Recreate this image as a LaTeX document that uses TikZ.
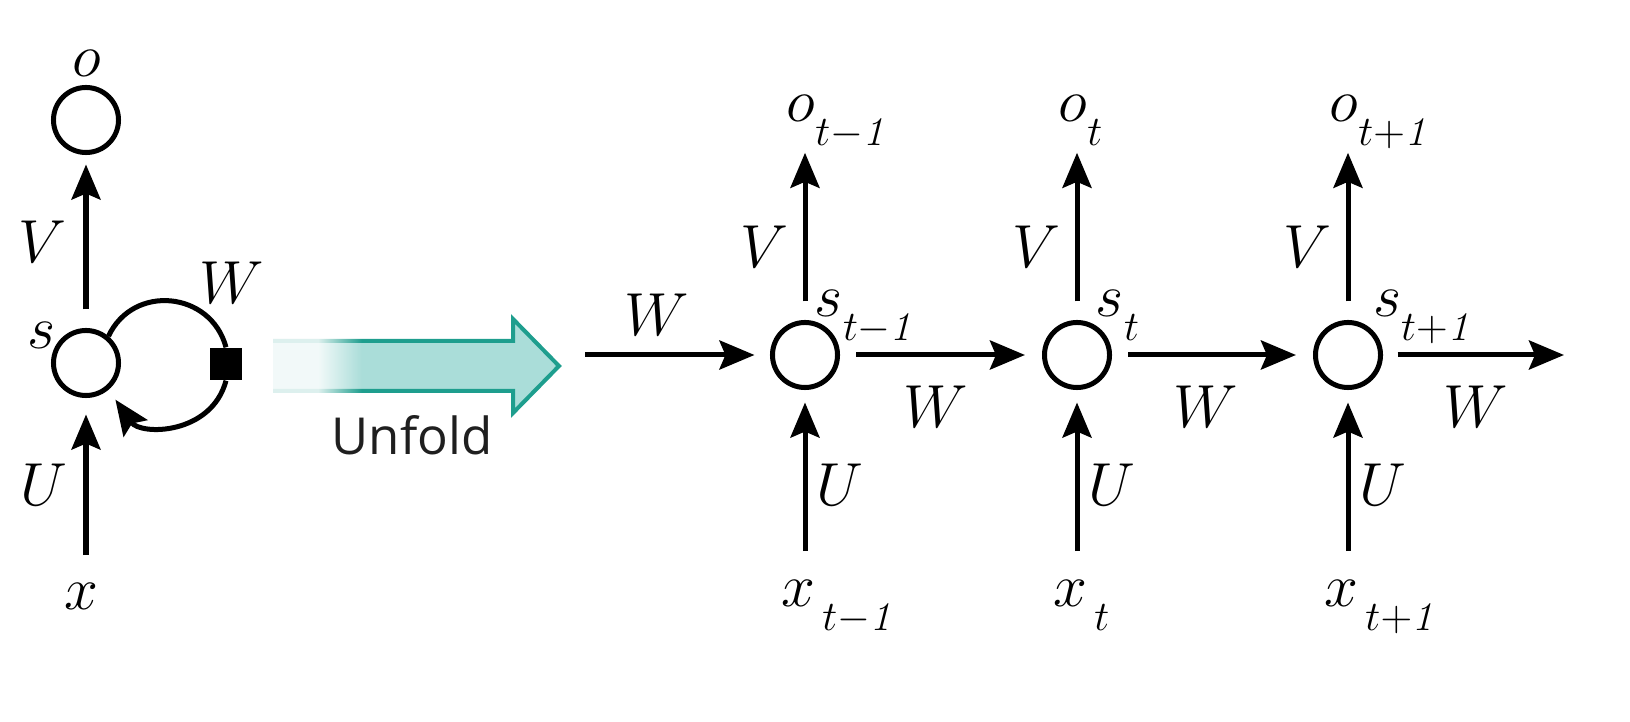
\documentclass[tikz,border=0pt]{standalone}
\usepackage{fontspec}
\newfontfamily\unfoldfont{Open Sans}
\usepackage{tikz}
\usetikzlibrary{arrows.meta,positioning,calc,fadings}
\definecolor{tealline}{HTML}{1E9E8E}
\definecolor{tealfill}{HTML}{AADDD9}
\tikzfading[name=fadeout right, left color=transparent!0, right color=transparent!100]
% subscript set low and to the right, without changing the node's box
\newcommand{\sublab}[1]{\rlap{\raisebox{-7pt}[0pt][0pt]{$\scriptstyle #1$}}}

\begin{document}
\begin{tikzpicture}[x=0.01cm, y=0.01cm,
  font=\fontsize{16.5}{19}\selectfont,
  unit/.style={circle, draw, line width=0.05cm, minimum size=0.65cm, inner sep=0pt},
  lab/.style={inner sep=0pt},
  arr/.style={-{Stealth[length=0.35cm,width=0.29cm,inset=0.06cm]}, line width=0.05cm},
]
\useasboundingbox (0,0) rectangle (1630,-722);

% folded network
\node[unit] (o0) at (86,-120) {};
\node[unit] (s0) at (86,-363) {};
\node[fill, minimum size=0.32cm, inner sep=0pt] (sq) at (226,-364) {};
\node[lab] (olab0) at (87,-63) {$o$};
\node[lab] (slab0) at (42,-335) {$s$};
\node[lab] (x0) at (81,-596) {$x$};
\node[lab] (vlab0) at (42,-242) {$V$};
\node[lab] (ulab0) at (44,-485) {$U$};
\node[lab] (wlab0) at (232,-283) {$W$};
\draw[arr, shorten <=0.185cm, shorten >=0.095cm] (s0) -- (o0);
\draw[arr, shorten <=0.27cm, shorten >=0.165cm] (x0.north -| s0) -- (s0);
\draw[line width=0.05cm] (s0.50) to[out=65, in=105, looseness=1.26] (sq.north);
\draw[arr, shorten >=0.12cm] (sq.south) to[out=-105, in=-55, looseness=1.22] (s0.-50);

% unfold arrow, faded at its tail
\fill[tealfill] (273,-341) -- (513,-341) -- (513,-319) -- (559,-366) -- (513,-413) -- (513,-391) -- (273,-391) -- cycle;
\draw[tealline, line width=0.04cm, line join=miter] (273,-341) -- (513,-341) -- (513,-319) -- (559,-366) -- (513,-413) -- (513,-391) -- (273,-391);
\fill[white, fill opacity=0.85] (268,-335) rectangle (318,-397);
\fill[white, fill opacity=0.85, path fading=fadeout right] (318,-335) rectangle (362,-397);
\node[font=\unfoldfont\fontsize{14.5}{17}\selectfont, text=black!88, anchor=base, inner sep=0pt] (unfold) at (412,-455) {Unfold};

% unfolded network
\foreach \i/\xc/\sx/\tt in {1/805/24/{t-\mathit{1}}, 2/1077/33/t, 3/1348/39/{t+\mathit{1}}} {
  \node[unit] (s\i) at (\xc,-355) {};
  \node[lab] (o\i) at (\xc-4,-108) {$o$\sublab{\tt}};
  \node[lab] (slab\i) at (\xc+\sx,-303) {$s$\sublab{\tt}};
  \node[lab] (x\i) at (\xc-3,-593) {$x$\kern2pt\sublab{\tt}};
  \node[lab] (vlab\i) at (\xc-41,-247) {$V$};
  \node[lab] (ulab\i) at (\xc+35,-485) {$U$};
  \draw[arr, shorten <=0.185cm, shorten >=0.31cm] (s\i) -- (o\i.south -| s\i);
  \draw[arr, shorten <=0.28cm, shorten >=0.125cm] (x\i.north -| s\i) -- (s\i);
}
\coordinate (win) at (585,-355);
\coordinate (wout) at (1564,-355);
\draw[arr, shorten >=0.155cm] (win) -- (s1);
\draw[arr, shorten <=0.16cm, shorten >=0.17cm] (s1) -- (s2);
\draw[arr, shorten <=0.16cm, shorten >=0.17cm] (s2) -- (s3);
\draw[arr, shorten <=0.145cm] (s3) -- (wout);
\node[lab] (wlab1) at (657,-315) {$W$};
\node[lab] (wlab2) at (936,-407) {$W$};
\node[lab] (wlab3) at (1206,-407) {$W$};
\node[lab] (wlab4) at (1476,-407) {$W$};
\end{tikzpicture}
\end{document}
